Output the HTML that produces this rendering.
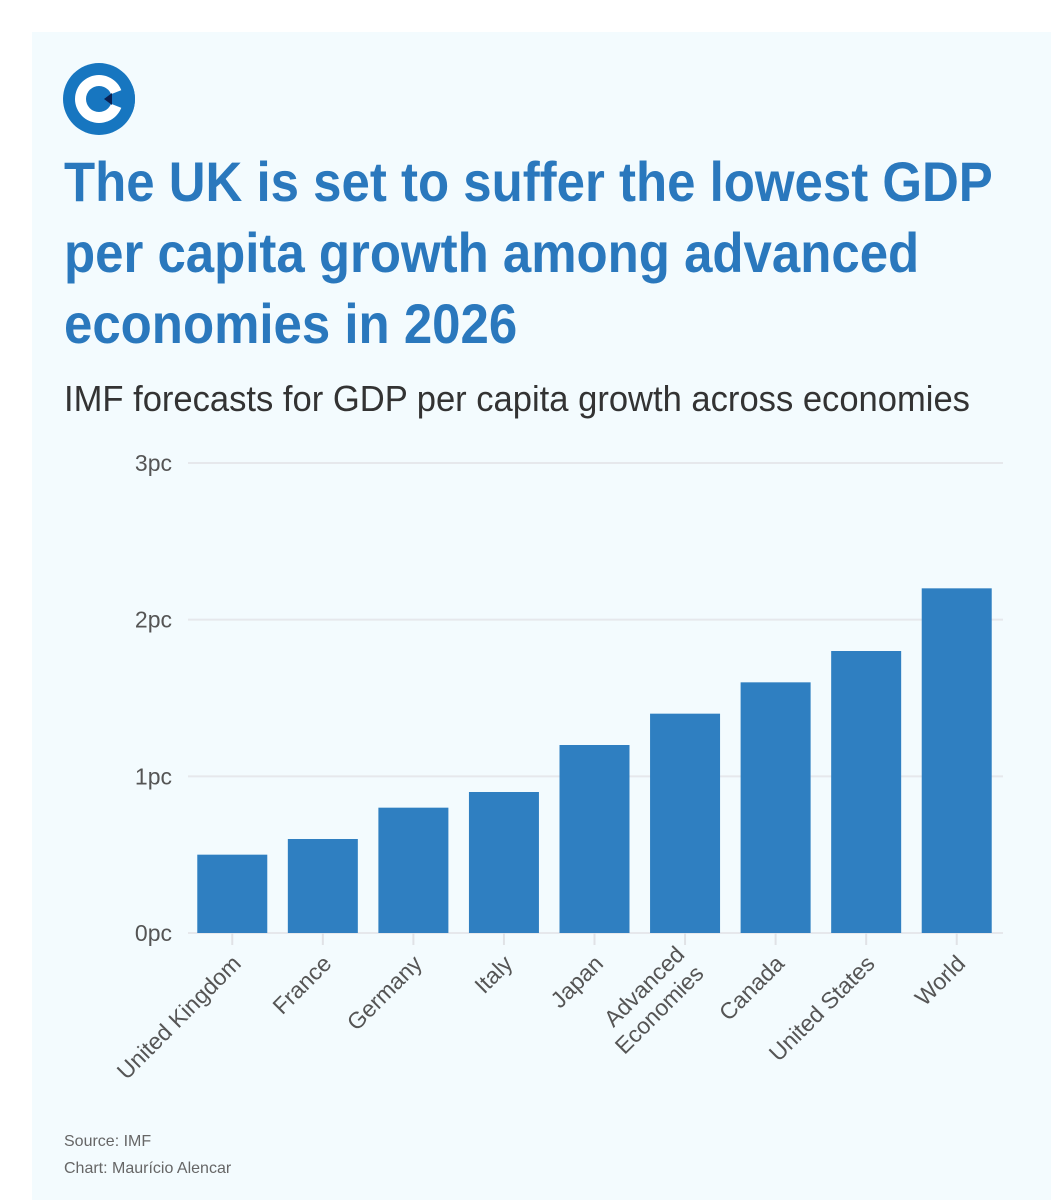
<!DOCTYPE html>
<html><head><meta charset="utf-8"><style>
body{margin:0;width:1051px;height:1200px;background:#fff;overflow:hidden;font-family:"Liberation Sans",sans-serif}
#panel{position:absolute;left:32px;top:32px;width:1019px;height:1168px;background:#f3fbfe}
#title{position:absolute;left:64px;top:146px;font-family:"Liberation Sans",sans-serif;font-weight:bold;font-size:56px;line-height:71px;color:#2a78bd;margin:0;white-space:nowrap;transform:scaleX(0.91);transform-origin:0 0}
#sub{position:absolute;left:64px;top:378px;font-family:"Liberation Sans",sans-serif;font-size:36px;color:#333;white-space:nowrap;transform:scaleX(0.96);transform-origin:0 0}
.foot{position:absolute;left:64px;font-size:16px;color:#666}
</style></head><body>
<div id="panel"></div>
<svg style="position:absolute;left:62px;top:62px" width="76" height="74">
<defs><clipPath id="cc"><circle cx="37" cy="37" r="36"/></clipPath></defs>
<circle cx="37" cy="37" r="36" fill="#1776c0"/>
<circle cx="37" cy="37" r="24" fill="#fff"/>
<circle cx="37" cy="37" r="13" fill="#1776c0"/>
<polygon points="37,37 80,20 80,54" fill="#1776c0" clip-path="url(#cc)"/>
<polygon points="42,37 50,31 50,43" fill="#0a2050"/>
</svg>
<h1 id="title">The UK is set to suffer the lowest GDP<br>per capita growth among advanced<br>economies in 2026</h1>
<div id="sub">IMF forecasts for GDP per capita growth across economies</div>
<svg id="chart" style="position:absolute;left:0;top:0" width="1051" height="1200"></svg>
<div class="foot" style="top:1133px">Source: IMF</div>
<div class="foot" style="top:1160px">Chart: Maurício Alencar</div>
<script>
const categories=["United Kingdom","France","Germany","Italy","Japan","Advanced\nEconomies","Canada","United States","World"];
const values=[0.5,0.6,0.8,0.9,1.2,1.4,1.6,1.8,2.2];
const yTicks=[0,1,2,3];
const yTickLabels=["0pc","1pc","2pc","3pc"];
const NS="http://www.w3.org/2000/svg";
const svg=document.getElementById('chart');
const x0=188,x1=1003,y0=933,yTop=463,yMax=3;
const y=v=>y0-(v/yMax)*(y0-yTop);
const step=(x1-x0)/categories.length;
const xc=i=>x0+step*(i+0.5)-1;
function mk(t,a){const e=document.createElementNS(NS,t);for(const k in a)e.setAttribute(k,a[k]);svg.appendChild(e);return e;}
yTicks.forEach((t,i)=>{
 const g=mk('line',{x1:x0,x2:x1,y1:y(t),y2:y(t),stroke:'#e6e8ec','stroke-width':2});
 
 
 const l=mk('text',{x:172,y:y(t)+8,'text-anchor':'end','font-size':23,fill:'#555','font-family':'Liberation Sans, sans-serif'});
 l.textContent=yTickLabels[i];
 
 
});
categories.forEach((c,i)=>{
 const cx=xc(i);
 const b=mk('rect',{x:cx-35,y:y(values[i]),width:70,height:y0-y(values[i]),fill:'#2f7fc1'});
 
 
 const tk=mk('line',{x1:cx,x2:cx,y1:y0,y2:y0+12,stroke:'#e0e2e6','stroke-width':2});
 
 
 const lines=c.split('\n');
 const t=mk('text',{transform:`translate(${cx+10},${y0+32}) rotate(-45)`,'text-anchor':'end','font-size':23,fill:'#555','font-family':'Liberation Sans, sans-serif'});
 lines.forEach((ln,j)=>{const s=document.createElementNS(NS,'tspan');s.setAttribute('x',0);s.setAttribute('dy',j==0?-(lines.length-1)*13:27);s.textContent=ln;t.appendChild(s);});
 
 
});
</script>
</body></html>
